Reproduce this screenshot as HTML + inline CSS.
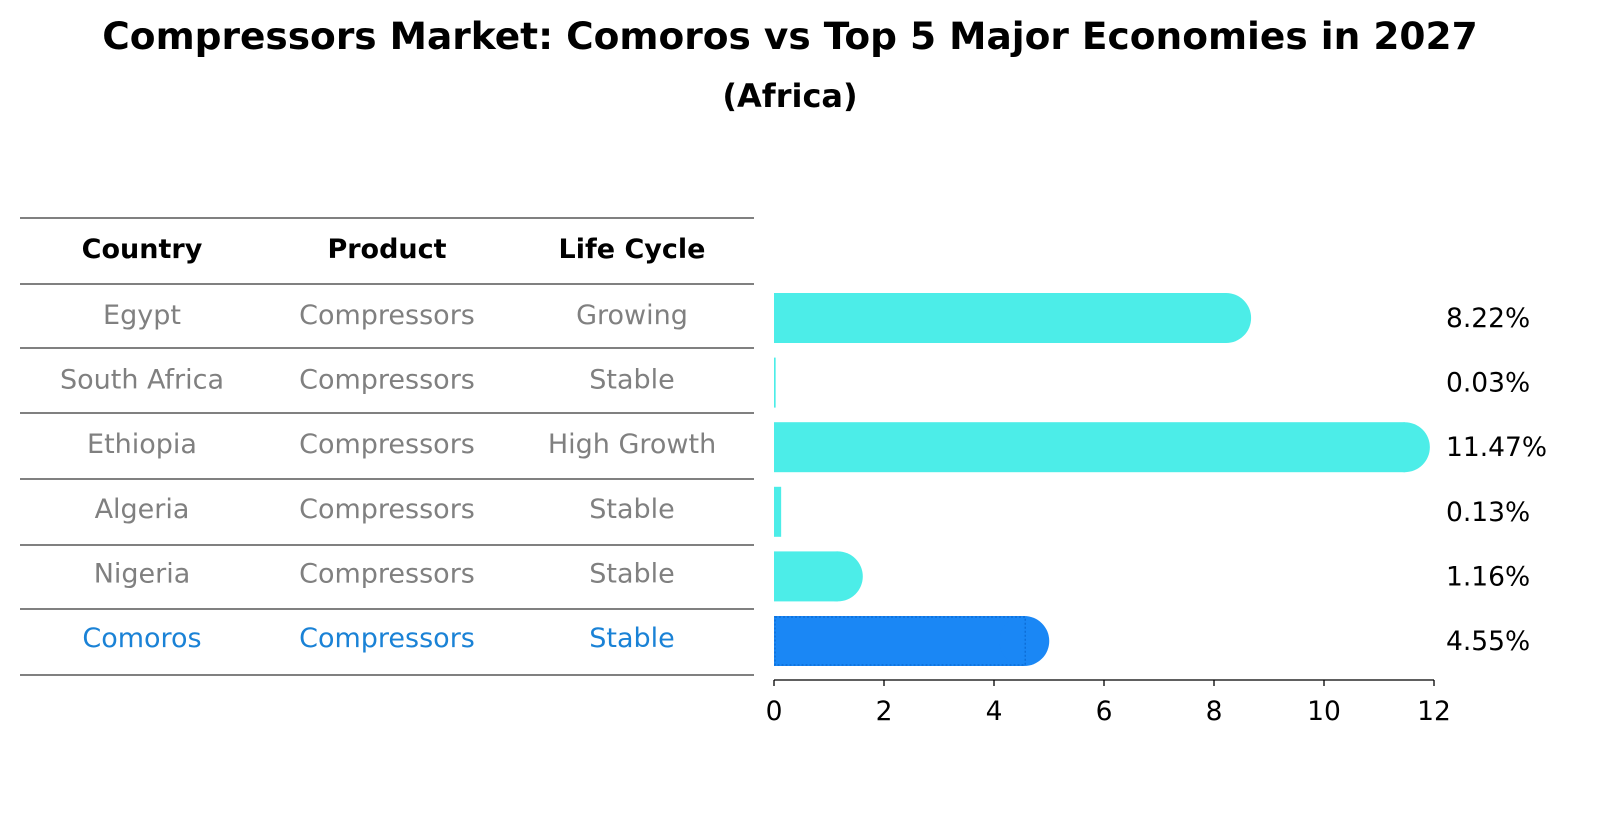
<!DOCTYPE html>
<html><head><meta charset="utf-8"><style>
body{margin:0;background:#fff;font-family:"DejaVu Sans","Liberation Sans",sans-serif;}
#wrap{position:relative;width:1604px;height:823px;overflow:hidden;}
</style></head><body>
<div id="wrap">
<svg id="svg" width="1604" height="823" xmlns="http://www.w3.org/2000/svg">
<text x="790" y="49" text-anchor="middle" font-size="37.5" font-weight="bold">Compressors Market: Comoros vs Top 5 Major Economies in 2027</text>
<text x="790" y="107" text-anchor="middle" font-size="32" font-weight="bold">(Africa)</text>
<g id="table"></g>
<g id="bars"></g>
</svg>
</div>
<script>
const countries=["Egypt","South Africa","Ethiopia","Algeria","Nigeria","Comoros"];
const products=["Compressors","Compressors","Compressors","Compressors","Compressors","Compressors"];
const lifecycles=["Growing","Stable","High Growth","Stable","Stable","Stable"];
const values=[8.22,0.03,11.47,0.13,1.16,4.55];
const valueLabels=["8.22%","0.03%","11.47%","0.13%","1.16%","4.55%"];
const ticks=[0,2,4,6,8,10,12];
const NS="http://www.w3.org/2000/svg";
function mk(tag,attrs,parent){const e=document.createElementNS(NS,tag);for(const k in attrs)e.setAttribute(k,attrs[k]);parent.appendChild(e);return e;}
const x=v=>774+v*55;
const rowY=i=>316+i*64.6;
const tbl=document.getElementById('table');
const lines=[218,284,348,413,479,545,609,675];
lines.forEach((y,i)=>{const l=mk('line',{x1:20,x2:754,y1:y,y2:y,stroke:'#000','stroke-width':1},tbl);

});
const cols=[142,387,632];
["Country","Product","Life Cycle"].forEach((h,j)=>{const t=mk('text',{x:cols[j],y:258,'text-anchor':'middle','font-size':27,'font-weight':'bold'},tbl);t.textContent=h;

});
countries.forEach((c,i)=>{const col=i===countries.length-1?'#1a82d6':'#808080';
[c,products[i],lifecycles[i]].forEach((s,j)=>{const t=mk('text',{x:cols[j],y:rowY(i)+8,'text-anchor':'middle','font-size':27,fill:col},tbl);t.textContent=s;

});});
const g=document.getElementById('bars');
const h=50;
values.forEach((v,i)=>{const cy=rowY(i)+2;const last=i===values.length-1;const col=last?'#1a87f5':'#4cede8';
const w=Math.max(x(v)-774,1.5);
const r=mk('rect',{x:774,y:cy-h/2,width:w,height:h,fill:col},g);


if(v>1){const c=mk('circle',{cx:x(v),cy:cy,r:h/2,fill:col},g);

}
if(last){const b=mk('rect',{x:775,y:cy-h/2+1,width:w,height:h-2,fill:'none',stroke:'#0d6fd8','stroke-width':1.5,'stroke-dasharray':'2,2'},g);

}
const t=mk('text',{x:1446,y:cy+9,'font-size':26.5},g);t.textContent=valueLabels[i];

});
const ax=mk('line',{x1:774,x2:1434,y1:680,y2:680,stroke:'#000','stroke-width':1.3},g);


ticks.forEach(tv=>{const tl=mk('line',{x1:x(tv),x2:x(tv),y1:680,y2:686,stroke:'#000','stroke-width':1.3},g);


const t=mk('text',{x:x(tv),y:720,'text-anchor':'middle','font-size':26.5},g);t.textContent=tv;

});
</script>
</body></html>
